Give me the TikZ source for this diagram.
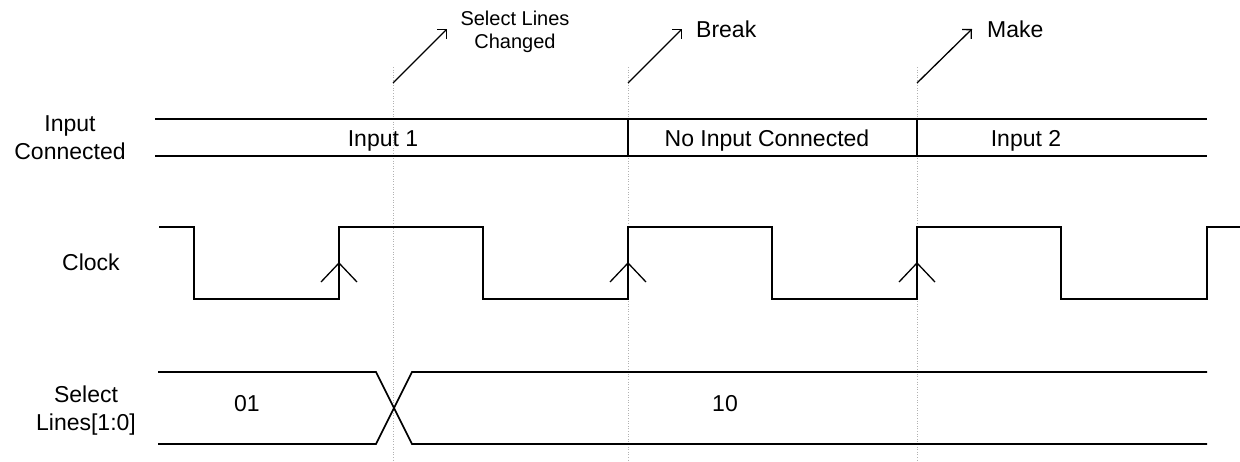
\documentclass[tikz,border=0pt]{standalone}
\usepackage{fontspec}
\setmainfont{Liberation Sans}
\usetikzlibrary{arrows.meta}
\begin{document}
\begin{tikzpicture}[x=1pt,y=-1pt,
  wave/.style={line width=1.6pt, line join=miter},
  guide/.style={black!30, dotted, line width=0.6pt},
  edgemark/.style={line width=1.3pt},
  pointer/.style={line width=1.3pt, -{Straight Barb[length=6.5pt,width=13pt,line width=1.3pt]}},
  lbl/.style={font=\fontsize{23}{28}\selectfont, inner sep=0pt, align=center, anchor=base},
  note/.style={font=\fontsize{20}{23}\selectfont, inner sep=0pt, align=center, anchor=base}]
\useasboundingbox (0,0) rectangle (1240,461);

% event guides
\foreach \x in {393,628,917} \draw[guide] (\x,67) -- (\x,461);

% event callouts
\coordinate (sel0) at (393,83);  \coordinate (sel1) at (447,29);
\coordinate (brk0) at (628,83);  \coordinate (brk1) at (682,29);
\coordinate (mk0)  at (917,83);  \coordinate (mk1)  at (972,29);
\draw[pointer] (sel0) -- (sel1);
\draw[pointer] (brk0) -- (brk1);
\draw[pointer] (mk0) -- (mk1);
% multi-line nodes sit on the baseline of their last line
\node[note] (tsel) at (515,48) {Select Lines\\Changed};
\node[lbl, anchor=base west] (tbrk) at (696,37) {Break};
\node[lbl, anchor=base west] (tmk) at (987,37) {Make};

% signal names
\node[lbl] (nin)  at (70,159)  {Input\\Connected};
\node[lbl] (nclk) at (91,270)  {Clock};
\node[lbl] (nsel) at (86,430)  {Select\\Lines[1:0]};

% input connected bus
\draw[wave] (155,119) -- (1207,119);
\draw[wave] (155,156) -- (1207,156);
\draw[wave] (628,119) -- (628,156);
\draw[wave] (917,119) -- (917,156);
\node[lbl] (vin1) at (383,146) {Input 1};
\node[lbl] (vnone) at (767,146) {No Input Connected};
\node[lbl] (vin2) at (1026,146) {Input 2};

% clock waveform
\draw[wave] (159,227) -- (194,227) -- (194,299) -- (339,299) -- (339,227)
  -- (483,227) -- (483,299) -- (628,299) -- (628,227)
  -- (772,227) -- (772,299) -- (917,299) -- (917,227)
  -- (1061,227) -- (1061,299) -- (1207,299) -- (1207,227) -- (1240,227);
\foreach \x in {339,628,917}
  \draw[edgemark] (\x-18,282) -- (\x,263) -- (\x+18,282);

% select lines bus
\draw[wave] (158,372) -- (376,372) -- (412,444) -- (1207,444);
\draw[wave] (158,444) -- (376,444) -- (412,372) -- (1207,372);
\draw[line width=2.3pt] (412,372) -- (427,372);
\node[lbl] (v01) at (247,411) {01};
\node[lbl] (v10) at (725,411) {10};
\end{tikzpicture}
\end{document}
